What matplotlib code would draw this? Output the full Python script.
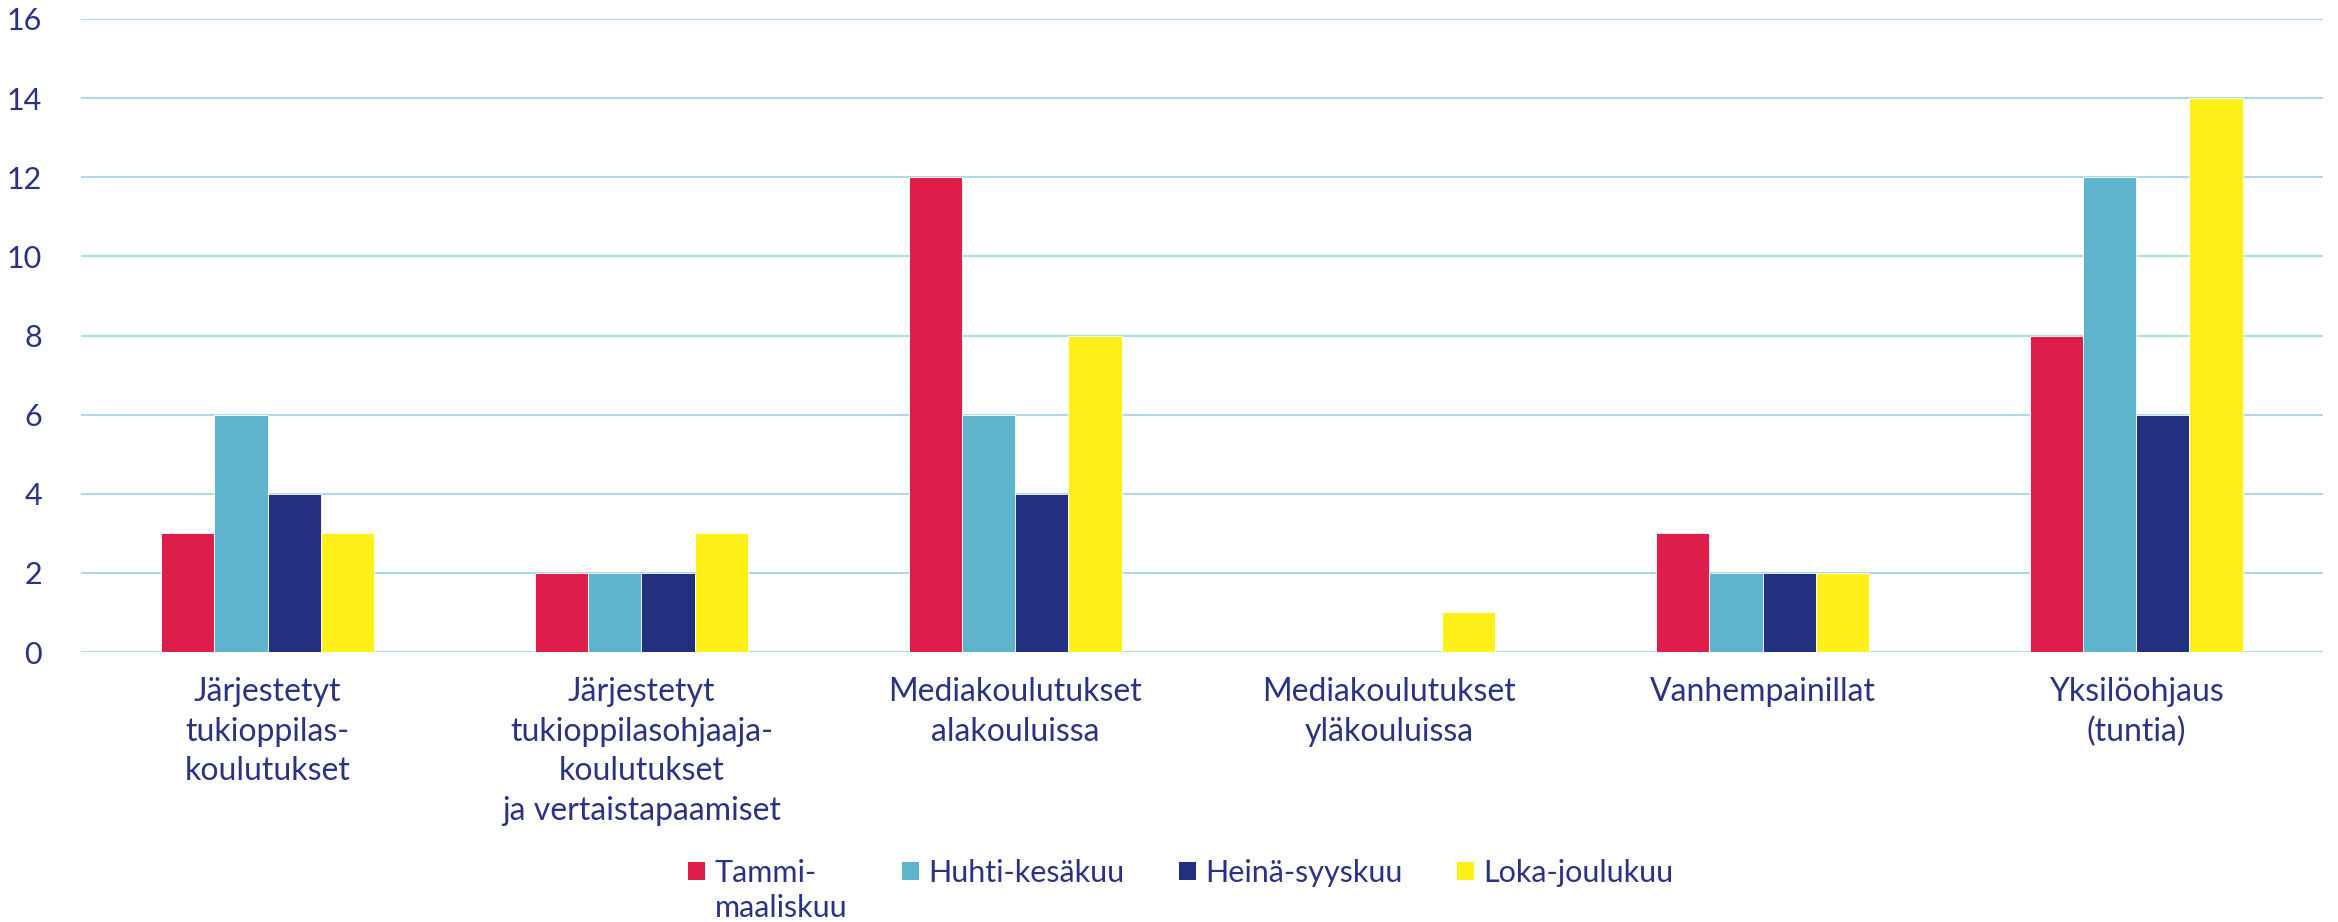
import matplotlib
matplotlib.use("Agg")
import matplotlib.pyplot as plt
import numpy as np
from matplotlib.patches import Patch
from matplotlib.transforms import Affine2D

# Values
categories = [
    "Järjestetyt\ntukioppilas-\nkoulutukset",
    "Järjestetyt\ntukioppilasohjaaja-\nkoulutukset\nja vertaistapaamiset",
    "Mediakoulutukset\nalakouluissa",
    "Mediakoulutukset\nyläkouluissa",
    "Vanhempainillat",
    "Yksilöohjaus\n(tuntia)",
]
series_names = ["Tammi-\nmaaliskuu", "Huhti-kesäkuu", "Heinä-syyskuu", "Loka-joulukuu"]
tammi_maalis = [3, 2, 12, 0, 3, 8]
huhti_kesa = [6, 2, 6, 0, 2, 12]
heina_syys = [4, 2, 4, 0, 2, 6]
loka_joulu = [3, 3, 8, 1, 2, 14]
y_ticks = [0, 2, 4, 6, 8, 10, 12, 14, 16]

COLORS = ["#DE1D4B", "#5EB4CD", "#232F7F", "#FFF01A"]
TEXT = "#2A3383"
GRID = "#9BD4E1"

plt.rcParams["font.family"] = ["Lato", "DejaVu Sans"]

W, H = 2338, 922
fig = plt.figure(figsize=(W / 100, H / 100), dpi=100)
ax = fig.add_axes([0.0346, 0.2928, 0.9590, 0.6866])

x = np.arange(len(categories))
width = 0.1425
all_series = [tammi_maalis, huhti_kesa, heina_syys, loka_joulu]
for i, vals in enumerate(all_series):
    ax.bar(x + (i - 1.5) * width, vals, width, color=COLORS[i],
           edgecolor="white", linewidth=0.6, zorder=3)

ax.set_xlim(-0.5, len(categories) - 0.5)
ax.set_ylim(0, 16)
ax.set_yticks(y_ticks)
ax.set_yticklabels([str(v) for v in y_ticks])
ax.set_xticks(x)
ax.set_xticklabels(categories, linespacing=1.4, fontsize=23)
ax.tick_params(axis="both", length=0, colors=TEXT)
ax.tick_params(axis="y", pad=28, labelsize=22)
ax.tick_params(axis="x", pad=18)
for lbl in ax.get_yticklabels():
    lbl.set_horizontalalignment("right")

ax.grid(axis="y", color=GRID, linewidth=1.2, zorder=0)
for s in ax.spines.values():
    s.set_visible(False)

handles = [Patch(facecolor=c, edgecolor="none") for c in COLORS]
leg_x = 1181 / W
leg = fig.legend(handles, series_names, loc="center",
                 bbox_to_anchor=(leg_x, 1 - 875 / H), ncol=4,
                 frameon=False, fontsize=22, labelcolor=TEXT,
                 handlelength=0.55, handleheight=0.55, handletextpad=0.3,
                 columnspacing=1.8, borderpad=0, borderaxespad=0)
leg.get_texts()[0].set_linespacing(1.3)

# put the legend row where the reference has it (centre ~871 px from the top)
fig.canvas.draw()
pb = leg.get_patches()[1].get_window_extent()
shift = (H - 871) - (pb.y0 + pb.y1) / 2
leg.set_bbox_to_anchor((leg_x, 1 - 875 / H + shift / H), transform=fig.transFigure)

# keep the first line of the two-line entry level with the other entries
fig.canvas.draw()
texts = leg.get_texts()
dy = texts[0].get_window_extent().y1 - texts[1].get_window_extent().y1
texts[0].set_transform(texts[0].get_transform() + Affine2D().translate(0, -dy))

fig.savefig("out.png", dpi=100, facecolor="white")
